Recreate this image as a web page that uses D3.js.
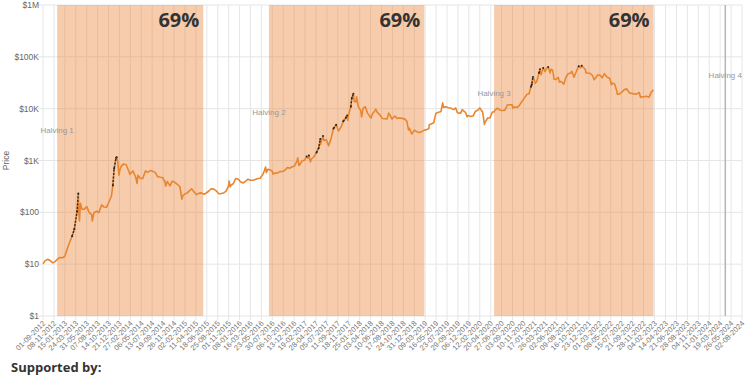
<!DOCTYPE html>
<html>
<head>
<meta charset="utf-8">
<script src="https://cdn.jsdelivr.net/npm/d3@7"></script>
<style>
  body { margin: 0; background: #fff; }
  svg { display: block; }
</style>
</head>
<body>
<svg id="chart" width="750" height="375"></svg>
<script>
// x axis labels (every 68 days)
var tickLabels = ["01-09-2012","08-11-2012","15-01-2013","24-03-2013","31-05-2013","07-08-2013","14-10-2013","21-12-2013",
  "27-02-2014","06-05-2014","13-07-2014","19-09-2014","26-11-2014","02-02-2015","11-04-2015","18-06-2015","25-08-2015",
  "01-11-2015","08-01-2016","16-03-2016","23-05-2016","30-07-2016","06-10-2016","13-12-2016","19-02-2017","28-04-2017",
  "05-07-2017","11-09-2017","18-11-2017","25-01-2018","03-04-2018","10-06-2018","17-08-2018","24-10-2018","31-12-2018",
  "09-03-2019","16-05-2019","23-07-2019","29-09-2019","06-12-2019","12-02-2020","20-04-2020","27-06-2020","03-09-2020",
  "10-11-2020","17-01-2021","26-03-2021","02-06-2021","09-08-2021","16-10-2021","23-12-2021","01-03-2022","08-05-2022",
  "15-07-2022","21-09-2022","28-11-2022","04-02-2023","14-04-2023","21-06-2023","28-08-2023","04-11-2023","11-01-2024",
  "19-03-2024","26-05-2024","02-08-2024"];

var priceTicks = [1, 10, 100, 1000, 10000, 100000, 1000000];
var priceTickLabels = ["$1","$10","$100","$1K","$10K","$100K","$1M"];

var halvingDates = ["2012-11-28","2016-07-09","2020-05-11","2024-04-20"];
var halvingNames = ["Halving 1","Halving 2","Halving 3","Halving 4"];
var shadeLabels = ["69%","69%","69%"];
var cycleShare = 0.69;
var priorATH = 32; // june 2011 top

var btcPrices = [
  ["2012-09-01",10.2],["2012-09-15",11.7],["2012-10-01",12.4],["2012-10-15",11.8],["2012-11-01",10.6],["2012-11-15",11.2],
  ["2012-12-01",12.6],["2012-12-15",13.4],
  ["2013-01-01",13.3],["2013-01-15",14.2],["2013-02-01",20.4],["2013-02-15",27],["2013-03-01",34.5],["2013-03-15",47],
  ["2013-04-01",104],["2013-04-09",230],["2013-04-12",100],["2013-04-16",68],["2013-04-22",150],["2013-05-01",116],["2013-05-15",114],
  ["2013-06-01",129],["2013-06-15",100],["2013-07-01",90],["2013-07-05",68],["2013-07-15",98],["2013-08-01",105],
  ["2013-08-15",99],["2013-09-01",139],["2013-09-15",127],["2013-10-01",125],["2013-10-15",155],["2013-11-01",204],
  ["2013-11-10",330],["2013-11-18",700],["2013-11-30",1130],["2013-12-04",1151],["2013-12-10",990],["2013-12-18",520],
  ["2013-12-25",680],
  ["2014-01-01",770],["2014-01-15",860],["2014-02-01",830],["2014-02-15",650],["2014-02-25",540],["2014-03-01",560],
  ["2014-03-15",630],["2014-04-01",480],["2014-04-10",360],["2014-04-15",520],["2014-05-01",450],["2014-05-15",450],
  ["2014-06-01",630],["2014-06-15",590],["2014-07-01",640],["2014-07-15",620],["2014-08-01",590],["2014-08-15",490],
  ["2014-09-01",475],["2014-09-15",470],["2014-10-01",385],["2014-10-05",320],["2014-10-15",395],["2014-11-01",325],
  ["2014-11-15",400],["2014-12-01",380],["2014-12-15",350],
  ["2015-01-01",315],["2015-01-14",180],["2015-01-20",210],["2015-02-01",225],["2015-02-15",235],["2015-03-01",260],
  ["2015-03-15",285],["2015-04-01",245],["2015-04-15",220],["2015-05-01",235],["2015-05-15",237],["2015-06-01",224],
  ["2015-06-15",236],["2015-07-01",258],["2015-07-15",285],["2015-08-01",280],["2015-08-15",260],["2015-09-01",228],
  ["2015-09-15",230],["2015-10-01",237],["2015-10-15",254],["2015-11-01",325],["2015-11-04",400],["2015-11-11",310],
  ["2015-11-15",330],["2015-12-01",360],["2015-12-15",450],
  ["2016-01-01",434],["2016-01-15",385],["2016-02-01",370],["2016-02-15",400],["2016-03-01",435],["2016-03-15",415],
  ["2016-04-01",417],["2016-04-15",430],["2016-05-01",450],["2016-05-15",455],["2016-06-01",535],["2016-06-15",690],
  ["2016-06-18",750],["2016-06-23",580],["2016-07-01",675],["2016-07-15",665],["2016-08-01",610],["2016-08-03",545],
  ["2016-08-15",570],["2016-09-01",575],["2016-09-15",610],["2016-10-01",615],["2016-10-15",640],["2016-11-01",730],
  ["2016-11-15",710],["2016-12-01",755],["2016-12-15",780],
  ["2017-01-01",1000],["2017-01-04",1130],["2017-01-12",800],["2017-01-15",820],["2017-02-01",990],["2017-02-15",1010],
  ["2017-03-01",1190],["2017-03-10",1110],["2017-03-15",1250],["2017-03-24",940],["2017-04-01",1080],["2017-04-15",1180],
  ["2017-05-01",1420],["2017-05-15",1750],["2017-05-25",2600],["2017-05-27",2050],["2017-06-01",2400],["2017-06-11",2960],
  ["2017-06-15",2440],["2017-07-01",2500],["2017-07-16",1930],["2017-08-01",2730],["2017-08-15",4150],["2017-09-01",4890],
  ["2017-09-15",3700],["2017-10-01",4400],["2017-10-15",5700],["2017-11-01",6750],["2017-11-08",7400],["2017-11-12",5950],
  ["2017-11-15",7300],["2017-12-01",10900],["2017-12-07",16000],["2017-12-17",19500],["2017-12-22",13800],
  ["2018-01-01",13500],["2018-01-06",17000],["2018-01-16",11100],["2018-02-01",9100],["2018-02-06",6900],["2018-02-15",10100],
  ["2018-03-01",10900],["2018-03-15",8200],["2018-04-01",6900],["2018-04-06",6600],["2018-04-15",8000],["2018-05-01",9200],
  ["2018-05-05",9800],["2018-05-15",8500],["2018-06-01",7500],["2018-06-15",6450],["2018-07-01",6400],["2018-07-15",6350],
  ["2018-07-25",8200],["2018-08-01",7600],["2018-08-15",6300],["2018-09-01",7200],["2018-09-15",6500],["2018-10-01",6600],
  ["2018-10-15",6500],["2018-11-01",6350],["2018-11-15",5700],["2018-11-25",3900],["2018-12-01",4200],["2018-12-15",3250],
  ["2019-01-01",3850],["2019-01-15",3600],["2019-02-01",3480],["2019-02-15",3600],["2019-03-01",3820],["2019-03-15",3900],
  ["2019-04-01",4150],["2019-04-03",4900],["2019-04-15",5050],["2019-05-01",5350],["2019-05-15",8200],["2019-06-01",8550],
  ["2019-06-15",8800],["2019-06-26",12900],["2019-07-01",10600],["2019-07-15",10900],["2019-08-01",10400],["2019-08-15",10300],
  ["2019-09-01",9600],["2019-09-15",10300],["2019-09-25",8400],["2019-10-01",8300],["2019-10-15",8150],["2019-10-26",9550],
  ["2019-11-01",9200],["2019-11-15",8500],["2019-11-25",7000],["2019-12-01",7400],["2019-12-15",7100],
  ["2020-01-01",7200],["2020-01-15",8800],["2020-02-01",9400],["2020-02-12",10350],["2020-03-01",8550],["2020-03-12",4970],
  ["2020-03-15",5360],["2020-04-01",6600],["2020-04-15",6650],["2020-04-30",8650],["2020-05-11",8600],["2020-05-15",9300],
  ["2020-06-01",10200],["2020-06-15",9450],["2020-07-01",9200],["2020-07-15",9200],["2020-07-28",11000],["2020-08-01",11800],
  ["2020-08-15",11900],["2020-09-01",11900],["2020-09-05",10200],["2020-09-15",10800],["2020-10-01",10600],["2020-10-15",11500],
  ["2020-11-01",13800],["2020-11-15",16000],["2020-12-01",18800],["2020-12-15",19400],["2020-12-27",26500],
  ["2021-01-01",29400],["2021-01-08",40800],["2021-01-15",36800],["2021-01-22",30800],["2021-02-01",33500],["2021-02-15",48700],
  ["2021-02-21",57500],["2021-02-28",45200],["2021-03-13",61200],["2021-03-25",51700],["2021-04-01",59000],["2021-04-13",63500],
  ["2021-04-25",49000],["2021-05-01",57800],["2021-05-10",56000],["2021-05-15",46400],["2021-05-19",37000],["2021-06-01",36700],
  ["2021-06-15",40200],["2021-06-22",32500],["2021-07-01",33600],["2021-07-20",29800],["2021-08-01",39900],["2021-08-15",47100],
  ["2021-09-01",48800],["2021-09-07",52700],["2021-09-21",40600],["2021-10-01",48200],["2021-10-15",61500],["2021-10-20",66000],
  ["2021-11-01",61300],["2021-11-08",67500],["2021-11-15",63600],["2021-12-01",57000],["2021-12-04",49000],["2021-12-15",48900],
  ["2022-01-01",47700],["2022-01-15",43100],["2022-01-24",36200],["2022-02-01",38700],["2022-02-15",44500],["2022-03-01",44400],
  ["2022-03-15",39300],["2022-03-29",47400],["2022-04-15",40500],["2022-05-01",38500],["2022-05-12",28900],["2022-05-15",31300],
  ["2022-06-01",29800],["2022-06-13",22500],["2022-06-18",19000],["2022-07-01",19300],["2022-07-15",20800],["2022-08-01",23300],
  ["2022-08-15",24100],["2022-09-01",20100],["2022-09-15",19700],["2022-10-01",19300],["2022-10-15",19100],["2022-11-01",20500],
  ["2022-11-09",16500],["2022-11-15",16900],["2022-12-01",17000],["2022-12-15",17400],
  ["2023-01-01",16600],["2023-01-15",20900],["2023-01-28",23000]
];

var svg = d3.select("#chart");
var plotLeft = 43, plotRight = 742, plotTop = 5, plotBottom = 316;

var parseTick = d3.utcParse("%d-%m-%Y");
var parseDay = d3.utcParse("%Y-%m-%d");

var tickDates = tickLabels.map(parseTick);
var x = d3.scaleUtc().domain([tickDates[0], tickDates[tickDates.length-1]]).range([plotLeft, plotRight]);
var y = d3.scaleLog().domain([1, 1000000]).range([plotBottom, plotTop]);

var data = [];
var runMax = priorATH;
btcPrices.forEach(function(p){
    var d = {date: parseDay(p[0]), price: p[1], ath: false};
    if(d.price >= runMax){ d.ath = true; runMax = d.price; }
    data.push(d);
});

// grid
var grid = svg.append("g");
grid.selectAll("line.h")
    .data(priceTicks)
    .enter()
    .append("line")
    .attr("x1", plotLeft - 5).attr("x2", plotRight)
    .attr("y1", function(d){ return y(d) }).attr("y2", function(d){ return y(d) })
    .style("stroke", "#e6e6e6").style("stroke-width", 1);
grid.selectAll("line.v")
    .data(tickDates)
    .enter()
    .append("line")
    .attr("x1", function(d){ return x(d) }).attr("x2", function(d){ return x(d) })
    .attr("y1", plotTop).attr("y2", plotBottom + 4)
    .style("stroke", "#e6e6e6").style("stroke-width", 1);

// shaded part of each halving cycle
var halvings = halvingDates.map(parseDay);
var shades = [];
for(var i = 0; i < halvings.length - 1; i++){
    var span = halvings[i+1] - halvings[i];
    shades.push({start: halvings[i], end: new Date(+halvings[i] + span * cycleShare), label: shadeLabels[i]});
}
svg.append("g").selectAll("rect")
    .data(shades)
    .enter()
    .append("rect")
    .attr("x", function(d){ return x(d.start) })
    .attr("y", plotTop)
    .attr("width", function(d){ return x(d.end) - x(d.start) })
    .attr("height", plotBottom - plotTop)
    .style("fill", "rgb(232,128,50)")
    .style("fill-opacity", 0.4);

// only the halving with no shaded cycle yet gets its own line
svg.append("g").selectAll("line")
    .data(halvings.slice(shades.length))
    .enter()
    .append("line")
    .attr("x1", function(d){ return x(d) }).attr("x2", function(d){ return x(d) })
    .attr("y1", plotTop).attr("y2", plotBottom)
    .style("stroke", "#b5b5b5").style("stroke-width", 1.5);

// price line
var line = d3.line()
    .x(function(d){ return x(d.date) })
    .y(function(d){ return y(d.price) });
svg.append("path")
    .datum(data)
    .attr("d", line)
    .style("fill", "none")
    .style("stroke", "#e8862f")
    .style("stroke-width", 1.6)
    .style("stroke-linejoin", "round");

// all time high stretches
svg.append("path")
    .datum(data)
    .attr("d", line.defined(function(d){ return d.ath }))
    .style("fill", "none")
    .style("stroke", "#2a2a2a")
    .style("stroke-width", 1.4)
    .style("stroke-dasharray", "2,1.5");
svg.append("g").selectAll("circle")
    .data(data.filter(function(d){ return d.ath }))
    .enter()
    .append("circle")
    .attr("cx", function(d){ return x(d.date) })
    .attr("cy", function(d){ return y(d.price) })
    .attr("r", 1)
    .style("fill", "#2a2a2a");

// labels
svg.append("g").selectAll("text")
    .data(shades)
    .enter()
    .append("text")
    .attr("x", function(d){ return x(d.end) - 4 })
    .attr("y", 27)
    .attr("text-anchor", "end")
    .style("font-family", "'Open Sans', sans-serif")
    .style("font-weight", "bold")
    .style("font-size", "20px")
    .style("fill", "#333")
    .text(function(d){ return d.label });

svg.append("g").selectAll("text")
    .data(halvings)
    .enter()
    .append("text")
    .attr("x", function(d){ return x(d) })
    .attr("y", function(d, i){ return 133 - i * 18.5 })
    .attr("text-anchor", "middle")
    .style("font-family", "'Liberation Sans', Arial, sans-serif")
    .style("font-size", "8px")
    .style("fill", "#999")
    .text(function(d, i){ return halvingNames[i] });

svg.append("g").selectAll("text")
    .data(priceTicks)
    .enter()
    .append("text")
    .attr("x", plotLeft - 4)
    .attr("y", function(d){ return y(d) + 3 })
    .attr("text-anchor", "end")
    .style("font-family", "'Liberation Sans', Arial, sans-serif")
    .style("font-size", "8.5px")
    .style("fill", "#666")
    .text(function(d, i){ return priceTickLabels[i] });

svg.append("text")
    .attr("transform", "translate(9," + ((plotTop + plotBottom) / 2) + ") rotate(-90)")
    .attr("text-anchor", "middle")
    .style("font-family", "'Liberation Sans', Arial, sans-serif")
    .style("font-size", "8.5px")
    .style("fill", "#666")
    .text("Price");

svg.append("g").selectAll("text")
    .data(tickDates)
    .enter()
    .append("text")
    .attr("transform", function(d){ return "translate(" + (x(d) + 1) + "," + (plotBottom + 6) + ") rotate(-45)" })
    .attr("text-anchor", "end")
    .attr("dy", "0.35em")
    .style("font-family", "'Liberation Sans', Arial, sans-serif")
    .style("font-size", "7.5px")
    .style("fill", "#777")
    .text(function(d, i){ return tickLabels[i] });

svg.append("text")
    .attr("x", 11)
    .attr("y", 372)
    .style("font-family", "'Open Sans', sans-serif")
    .style("font-weight", "bold")
    .style("font-size", "13px")
    .style("fill", "#333")
    .text("Supported by:");
</script>
</body>
</html>
